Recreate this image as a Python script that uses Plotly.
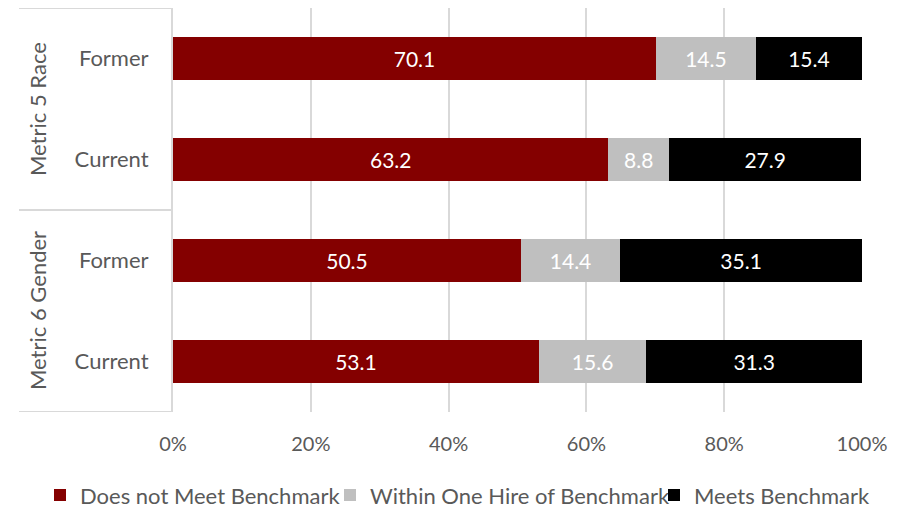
import plotly.graph_objects as go

categories = ["Metric 5 Race|Former", "Metric 5 Race|Current", "Metric 6 Gender|Former", "Metric 6 Gender|Current"]
cat_labels = ["Former", "Current", "Former", "Current"]
groups = ["Metric 5 Race", "Metric 6 Gender"]
series_names = ["Does not Meet Benchmark", "Within One Hire of Benchmark", "Meets Benchmark"]
does_not_meet = [70.1, 63.2, 50.5, 53.1]
within_one = [14.5, 8.8, 14.4, 15.6]
meets = [15.4, 27.9, 35.1, 31.3]
x_ticks = [0, 20, 40, 60, 80, 100]
x_tick_labels = ["0%", "20%", "40%", "60%", "80%", "100%"]

colors = ["#840000", "#BFBFBF", "#000000"]
legend_ids = ["legend", "legend2", "legend3"]
legend_x_px = [40, 330, 654]
FONT = "Lato"

fig = go.Figure()
for name, vals, col, lg in zip(series_names, [does_not_meet, within_one, meets], colors, legend_ids):
    fig.add_trace(go.Bar(
        y=categories, x=vals, name=name, orientation="h",
        marker=dict(color=col, line=dict(width=0)),
        width=0.42, legend=lg,
        text=[f"{v:.1f}" for v in vals], textposition="inside",
        insidetextanchor="middle",
        textfont=dict(family=FONT, size=21, color="white"),
        hoverinfo="x+name",
    ))

legend_common = dict(orientation="h", xref="container", yref="container",
                     y=0.025, xanchor="left", yanchor="middle",
                     font=dict(family=FONT, size=22, color="#595959"),
                     itemwidth=30, bgcolor="rgba(0,0,0,0)")
layout_legends = {}
for lg, xp in zip(legend_ids, legend_x_px):
    layout_legends[lg] = dict(legend_common, x=xp / 909)

fig.update_layout(
    barmode="stack",
    width=909, height=508,
    margin=dict(l=173, r=47, t=8, b=96, autoexpand=False),
    paper_bgcolor="white", plot_bgcolor="white",
    font=dict(family=FONT, color="#595959"),
    showlegend=True,
    uniformtext=dict(mode=False),
    **layout_legends,
)
fig.update_xaxes(range=[0, 100], tickvals=x_ticks, ticktext=x_tick_labels,
                 showgrid=True, gridcolor="#D9D9D9", gridwidth=1.5,
                 zeroline=False, showline=False, automargin=False,
                 tickfont=dict(family=FONT, size=20, color="#595959"),
                 ticklabelstandoff=18, fixedrange=True)
fig.update_yaxes(type="category", categoryorder="array", categoryarray=categories,
                 range=[3.5, -0.5], tickvals=categories, ticktext=cat_labels,
                 showline=True, linecolor="#D9D9D9", linewidth=2,
                 showgrid=False, zeroline=False, automargin=False,
                 tickfont=dict(family=FONT, size=22, color="#595959"),
                 ticklabelstandoff=18, fixedrange=True)

# group labels and dividers
x_left = (19 - 173) / 689
for i, g in enumerate(groups):
    fig.add_annotation(text=g, xref="paper", yref="y", x=(37 - 173) / 689, y=2 * i + 0.5,
                       textangle=-90, showarrow=False, xanchor="center", yanchor="middle",
                       font=dict(family=FONT, size=22, color="#595959"))
for yv in [-0.5, 1.5, 3.5]:
    fig.add_shape(type="line", xref="paper", yref="y", x0=x_left, x1=0, y0=yv, y1=yv,
                  line=dict(color="#D9D9D9", width=2))

fig.write_html("out.html", config={"displayModeBar": False},
               post_script="document.body.style.margin='0';document.body.style.overflow='hidden';")
